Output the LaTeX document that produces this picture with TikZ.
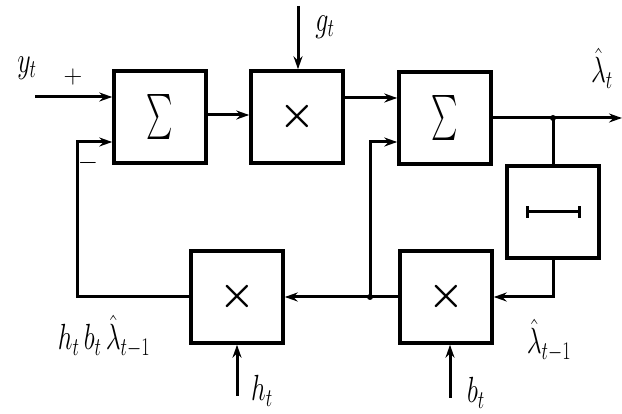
\documentclass[tikz,border=0pt]{standalone}
\usepackage{fix-cm}
\usetikzlibrary{arrows.meta,calc}
\newcommand{\tall}[1]{\scalebox{1}[1.4]{#1}}
\newcommand{\mulsym}{\scalebox{4}{\boldmath$\times$}}
\begin{document}
\begin{tikzpicture}[x=1pt,y=-1pt,
  blk/.style={draw,line width=3.5pt,minimum width=92pt,minimum height=92pt,inner sep=0pt},
  ln/.style={line width=3pt},
  arr/.style={line width=3pt,-{Stealth[length=13pt,width=9pt]}},
  lbl/.style={font=\fontsize{26}{30}\selectfont,inner sep=0pt},
  jdot/.style={circle,fill,inner sep=0pt,minimum size=6pt}]
\useasboundingbox (0,0) rectangle (622,414);
% blocks
\node[blk] (b1) at (160,117) {\scalebox{2.5}[4.5]{$\sum$}};
\node[blk] (b2) at (297,117) {\mulsym};
\node[blk] (b3) at (445,118) {\scalebox{2.5}[4.5]{$\sum$}};
\node[blk] (b4) at (553,212) {};
\node[blk] (b5) at (446,297) {\mulsym};
\node[blk] (b6) at (237,297) {\mulsym};
% delay symbol
\draw[line width=3pt] ([xshift=-26pt]b4.center) -- ([xshift=26pt]b4.center);
\draw[line width=3pt] ([xshift=-26pt,yshift=-6pt]b4.center) -- ([xshift=-26pt,yshift=6pt]b4.center);
\draw[line width=3pt] ([xshift=26pt,yshift=-6pt]b4.center) -- ([xshift=26pt,yshift=6pt]b4.center);
% coordinates
\coordinate (yin) at (35,97);
\coordinate (c1) at (77,142);
\coordinate (gin) at (298,6);
\coordinate (c2) at (0,98);
\coordinate (j2) at (370,297);
\coordinate (c3) at (370,142);
\coordinate (out) at (622,118);
\coordinate (j1) at (553,118);
\coordinate (c4) at (553,297);
\coordinate (bin) at (450,398);
\coordinate (hin) at (237,396);
% connectors
\draw[arr] (yin) -- (b1.west |- yin);
\draw[arr] (b6.west) -| (c1) -- (b1.west |- c1);
\draw[arr] (b1.east |- 0,115) -- (b2.west |- 0,115);
\draw[arr] (gin) -- (b2.north -| gin);
\draw[arr] (b2.east |- c2) -- (b3.west |- c2);
\draw[arr] (j2) -- (c3) -- (b3.west |- c3);
\draw[arr] (b3.east |- out) -- (out);
\draw[ln] (j1) -- (b4.north);
\draw[arr] (b4.south) -- (c4) -- (b5.east |- c4);
\draw[arr] (b5.west |- j2) -- (b6.east |- j2);
\draw[arr] (bin) -- (b5.south -| bin);
\draw[arr] (hin) -- (b6.south -| hin);
\node[jdot] at (j1) {};
\node[jdot] at (j2) {};
% labels
\node[lbl] (lyt) at (27,68) {\tall{$y_t$}};
\node[lbl] (lplus) at (73,77) {$+$};
\node[lbl] (lminus) at (88,163) {$-$};
\node[lbl] (lgt) at (325,27) {\tall{$g_t$}};
\node[lbl] (llt) at (602,68) {\tall{$\hat\lambda_t$}};
\node[lbl] (lhb) at (104,336) {\tall{$h_t\,b_t\,\hat\lambda_{t-1}$}};
\node[lbl] (ll1) at (549,340) {\tall{$\hat\lambda_{t-1}$}};
\node[lbl] (lht) at (262,391) {\tall{$h_t$}};
\node[lbl] (lbt) at (476,393) {\tall{$b_t$}};
\end{tikzpicture}
\end{document}
